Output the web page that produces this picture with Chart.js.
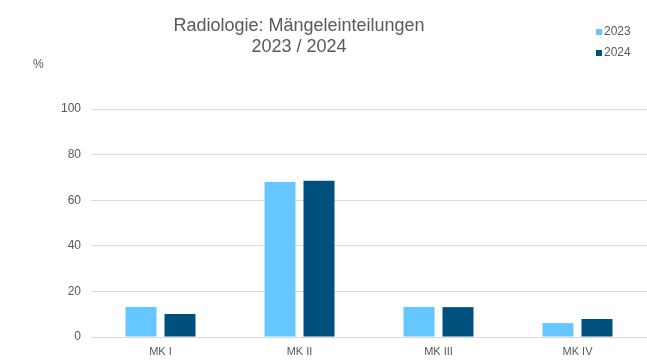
<!DOCTYPE html>
<html>
<head>
<meta charset="utf-8">
<script src="https://cdn.jsdelivr.net/npm/chart.js@4"></script>
<style>
html,body{margin:0;padding:0;background:#fff;}
#wrap{width:647px;height:363px;position:relative;}
</style>
</head>
<body>
<div id="wrap"><canvas id="c" width="647" height="363"></canvas></div>
<script>
const categories = ["MK I", "MK II", "MK III", "MK IV"];
const series2023 = [13.2, 68.0, 13.2, 6.1];
const series2024 = [10.1, 68.5, 13.1, 7.9];
const seriesNames = ["2023", "2024"];
const titleLines = ["Radiologie: Mängeleinteilungen", "2023 / 2024"];
const yUnit = "%";
const yTicks = [0, 20, 40, 60, 80, 100];

const colors = ["#66c6ff", "#00507f"];
const textColor = "#595959";
const fontFamily = "'Liberation Sans', Arial, sans-serif";

const overlay = {
  id: "overlay",
  afterDraw(chart) {
    const ctx = chart.ctx;
    ctx.save();
    ctx.fillStyle = textColor;
    ctx.textAlign = "center";
    ctx.textBaseline = "alphabetic";
    ctx.font = "18px " + fontFamily;
    ctx.fillText(titleLines[0], 299, 31);
    ctx.fillText(titleLines[1], 299, 52);
    ctx.textAlign = "left";
    ctx.font = "12px " + fontFamily;
    ctx.fillText(yUnit, 33, 68);
    ctx.font = "12px " + fontFamily;
    chart.data.datasets.forEach((ds, i) => {
      const y = 35 + i * 21;
      ctx.fillStyle = ds.backgroundColor;
      ctx.fillRect(596, y - 6, 6, 6);
      ctx.fillStyle = textColor;
      ctx.fillText(ds.label, 604, y);
    });
    ctx.restore();
  }
};

new Chart(document.getElementById("c"), {
  type: "bar",
  data: {
    labels: categories,
    datasets: [
      { label: seriesNames[0], data: series2023, backgroundColor: colors[0] },
      { label: seriesNames[1], data: series2024, backgroundColor: colors[1] }
    ]
  },
  options: {
    responsive: false,
    animation: false,
    devicePixelRatio: 1,
    layout: { padding: { top: 109, left: 0, right: 0, bottom: 0 } },
    datasets: { bar: { categoryPercentage: 0.561, barPercentage: 0.795 } },
    plugins: {
      legend: { display: false },
      title: { display: false },
      tooltip: { enabled: false }
    },
    scales: {
      x: {
        afterFit(s) { s.height = 26; },
        grid: { display: false, drawTicks: false },
        border: { display: true, color: "#d9d9d9", width: 1 },
        ticks: { color: textColor, font: { family: fontFamily, size: 11 }, padding: 8 }
      },
      y: {
        min: 0,
        max: 100,
        afterFit(s) { s.width = 91; },
        afterBuildTicks(s) { s.ticks = yTicks.map(v => ({ value: v })); },
        grid: { color: "#d9d9d9", drawTicks: false },
        border: { display: false },
        ticks: { color: textColor, font: { family: fontFamily, size: 12 }, padding: 10 }
      }
    }
  },
  plugins: [overlay]
});
</script>
</body>
</html>
